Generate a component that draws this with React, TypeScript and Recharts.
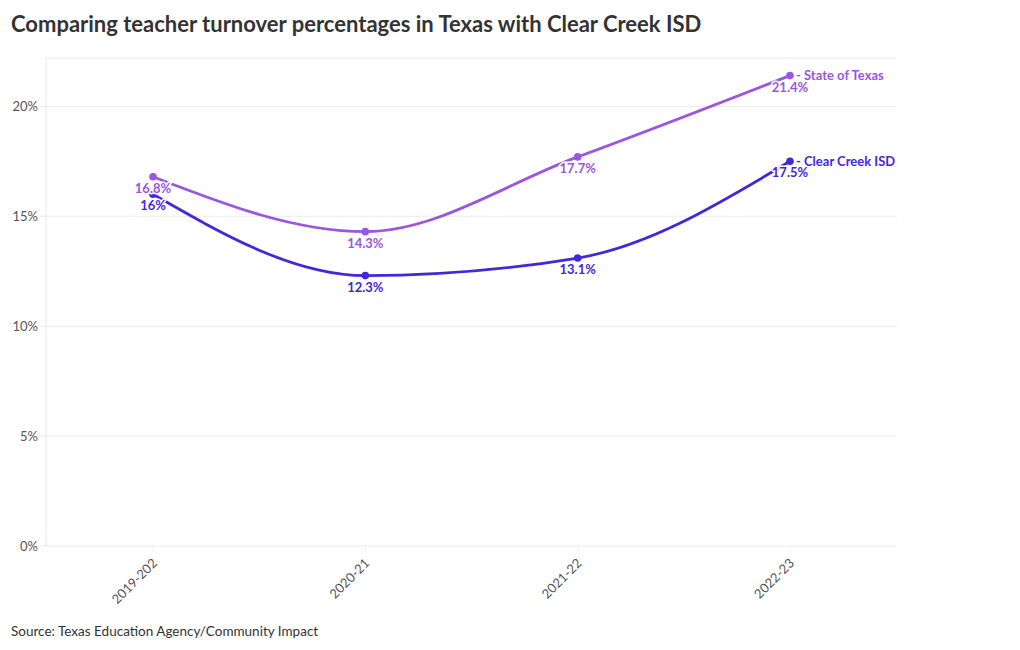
import React from 'react';
import { LineChart, Line, XAxis, YAxis, CartesianGrid, LabelList } from 'recharts';

const seasons = ['2019-202', '2020-21', '2021-22', '2022-23'];
const stateOfTexas = [16.8, 14.3, 17.7, 21.4];
const clearCreek = [16, 12.3, 13.1, 17.5];
const yTicks = [0, 5, 10, 15, 20];

const TEXAS = '#9b55de';
const CCISD = '#4526d9';
const FONT = 'Lato, "Noto Sans", sans-serif';

const data = seasons.map((season, i) => ({
  season,
  texas: stateOfTexas[i],
  ccisd: clearCreek[i],
}));

const makeLabel = (color: string, name: string) => (props: any) => {
  const { x, y, value, index } = props;
  const last = index === seasons.length - 1;
  return (
    <g>
      <text
        x={x}
        y={y + 16}
        textAnchor="middle"
        fill={color}
        stroke="#fff"
        strokeWidth={3}
        paintOrder="stroke"
        fontSize={13}
        fontWeight={700}
        fontFamily={FONT}
      >
        {`${value}%`}
      </text>
      {last && (
        <text x={x + 6} y={y + 4.5} fill={color} fontSize={13} fontWeight={700} fontFamily={FONT}>
          {`- ${name}`}
        </text>
      )}
    </g>
  );
};

const XTick = (props: any) => {
  const { x, y, payload } = props;
  return (
    <text
      x={x + 5}
      y={y + 10}
      textAnchor="end"
      transform={`rotate(-45, ${x + 5}, ${y + 10})`}
      fill="#555"
      fontSize={13}
      fontFamily={FONT}
    >
      {payload.value}
    </text>
  );
};

export default function App() {
  return (
    <div style={{ position: 'absolute', left: 0, top: 0, width: 1020, height: 650, background: '#fff', fontFamily: FONT }}>
      <div style={{ position: 'absolute', left: 11, top: 10, fontSize: 22, fontWeight: 700, color: '#333' }}>
        Comparing teacher turnover percentages in Texas with Clear Creek ISD
      </div>
      <div style={{ position: 'absolute', left: 0, top: 0 }}>
        <LineChart
          width={1020}
          height={650}
          data={data}
          margin={{ top: 58, right: 123, bottom: 44, left: 6 }}
        >
          <CartesianGrid horizontal vertical={false} stroke="#ececec" />
          <XAxis
            dataKey="season"
            axisLine={false}
            tickLine={{ stroke: '#f0f0f0' }}
            tickSize={6}
            tick={<XTick />}
            height={60}
            padding={{ left: 107, right: 107 }}
            interval={0}
          />
          <YAxis
            width={40}
            domain={[0, 22.2]}
            ticks={yTicks}
            tickFormatter={(v) => `${v}%`}
            axisLine={{ stroke: '#e8e8e8' }}
            tickLine={{ stroke: '#e8e8e8' }}
            tickSize={6}
            tick={{ fill: '#555', fontSize: 13, fontFamily: FONT }}
          />
          <Line
            type="monotone"
            dataKey="texas"
            stroke={TEXAS}
            strokeWidth={2.8}
            dot={{ r: 3.8, fill: TEXAS, stroke: TEXAS, strokeWidth: 0 }}
            activeDot={false}
            isAnimationActive={false}
          >
            <LabelList dataKey="texas" content={makeLabel(TEXAS, 'State of Texas')} />
          </Line>
          <Line
            type="monotone"
            dataKey="ccisd"
            stroke={CCISD}
            strokeWidth={2.8}
            dot={{ r: 3.8, fill: CCISD, stroke: CCISD, strokeWidth: 0 }}
            activeDot={false}
            isAnimationActive={false}
          >
            <LabelList dataKey="ccisd" content={makeLabel(CCISD, 'Clear Creek ISD')} />
          </Line>
        </LineChart>
      </div>
      <div style={{ position: 'absolute', left: 11, top: 623, fontSize: 13.5, color: '#333' }}>
        Source: Texas Education Agency/Community Impact
      </div>
    </div>
  );
}
